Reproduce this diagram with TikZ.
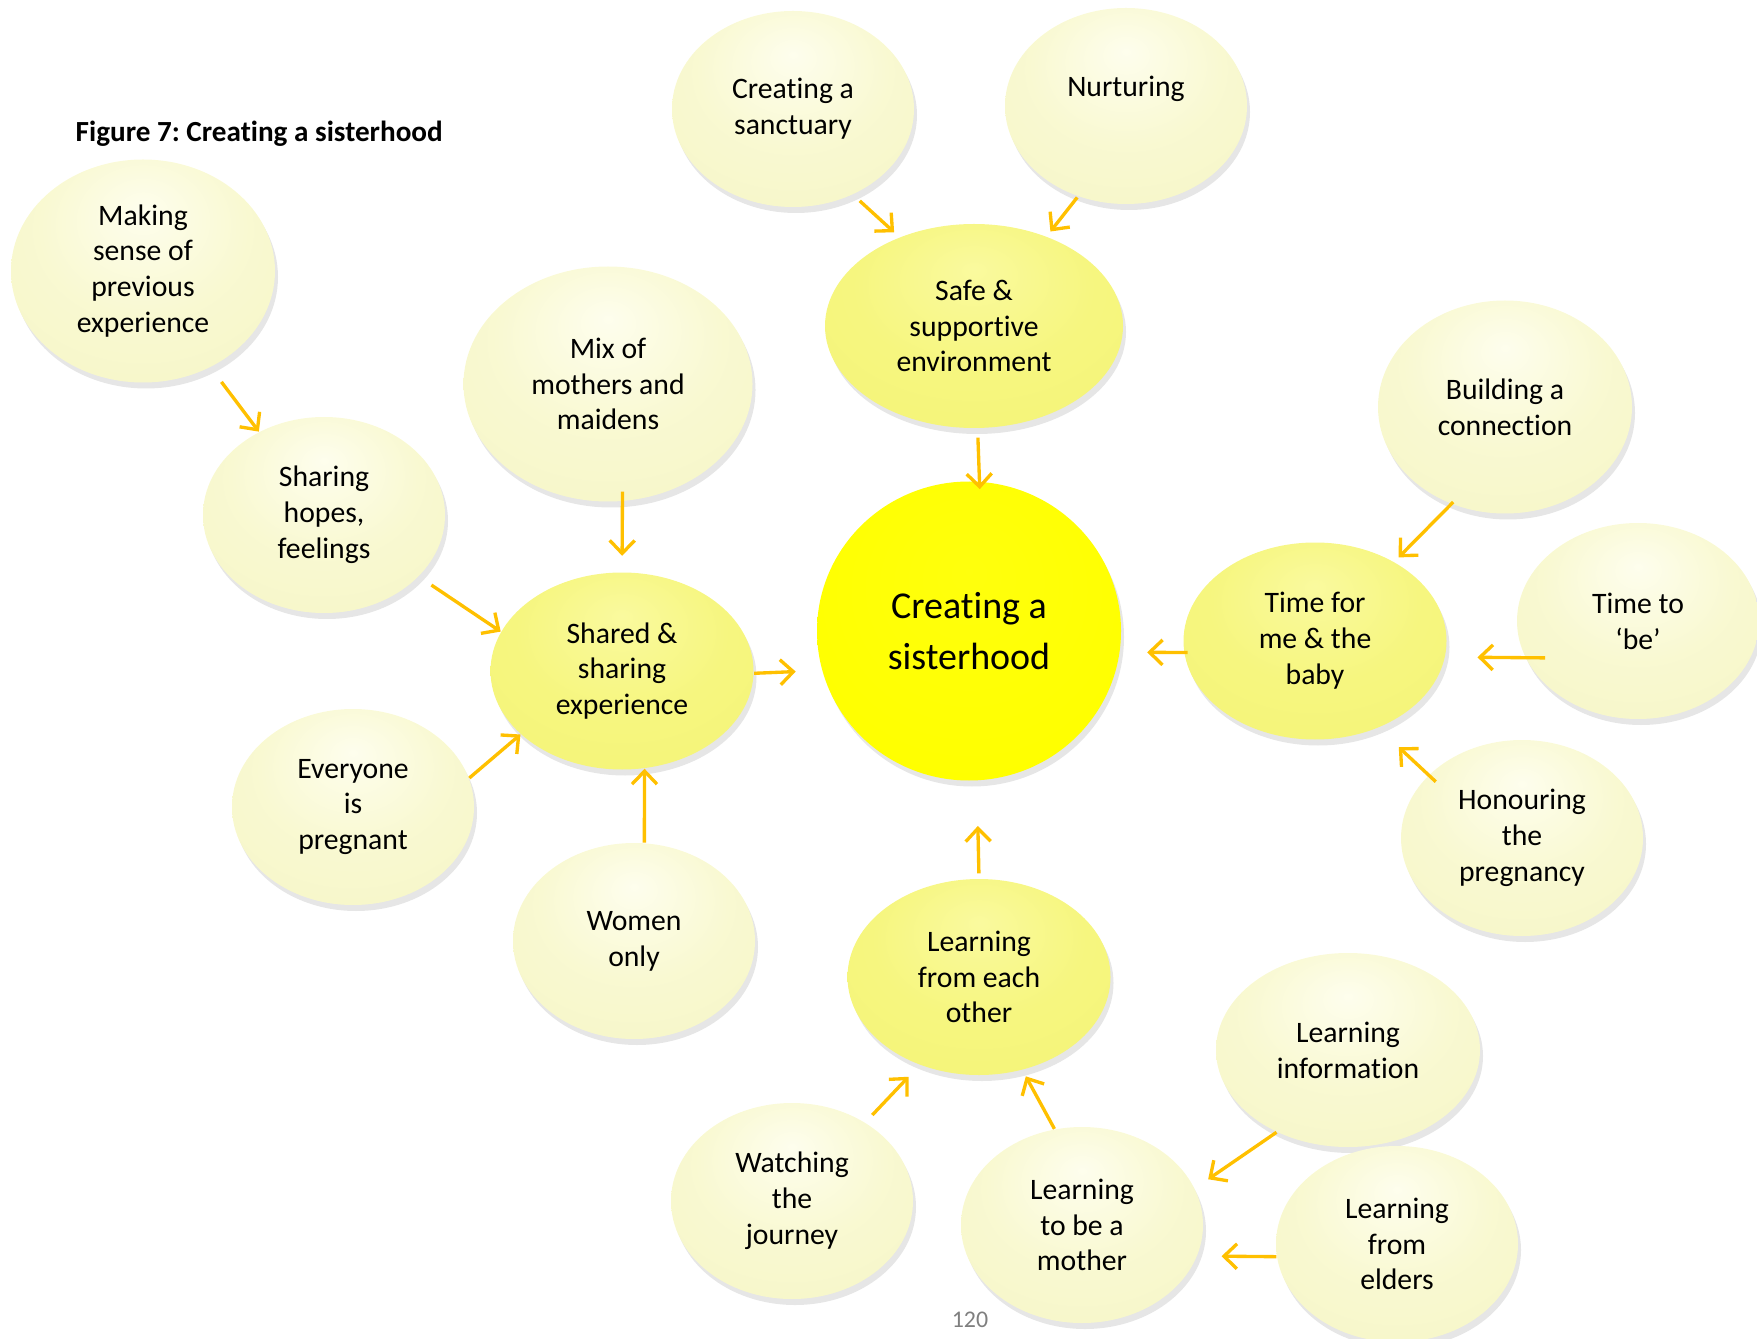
\documentclass[tikz,border=0pt]{standalone}
\usepackage{fontspec}
\setmainfont{Carlito}[Ligatures=NoCommon]
\usepackage{tikz}
\usetikzlibrary{shapes.geometric,shadows,arrows.meta}
\usepackage{xcolor}
\definecolor{arrowgold}{RGB}{255,192,0}
\definecolor{pagegray}{RGB}{127,127,127}
\pgfdeclareradialshading{palefill}{\pgfpoint{0bp}{14bp}}{%
  rgb(0bp)=(0.995,0.995,0.93); rgb(20bp)=(0.975,0.975,0.82); rgb(48bp)=(0.96,0.96,0.76); rgb(62bp)=(0.90,0.90,0.66)}
\pgfdeclareradialshading{midfill}{\pgfpoint{0bp}{14bp}}{%
  rgb(0bp)=(0.98,0.98,0.62); rgb(20bp)=(0.965,0.965,0.50); rgb(48bp)=(0.955,0.955,0.45); rgb(62bp)=(0.88,0.88,0.36)}
\pgfdeclareradialshading{corefill}{\pgfpoint{0bp}{10bp}}{%
  rgb(0bp)=(1,1,0.05); rgb(30bp)=(1,1,0); rgb(50bp)=(0.98,0.98,0); rgb(60bp)=(0.90,0.90,0)}
\newcommand\bubblefont{\fontsize{8.45}{10.2}\selectfont}
\tikzstyle{bubble} = [ellipse, inner sep=0pt, align=center, font=\bubblefont, shading=palefill,
  drop shadow={shadow xshift=0.3mm, shadow yshift=-0.6mm, opacity=0.2},
  minimum width=24.2mm, minimum height=19.6mm]
\tikzstyle{midbubble} = [bubble, shading=midfill]
\tikzstyle{corebubble} = [bubble, shading=corefill, font=\fontsize{10.8}{14.6}\selectfont]
\tikzstyle{link} = [draw=arrowgold, line width=0.95pt, -{Straight Barb[length=1.3mm,width=2.5mm]}]
\tikzstyle{figtitle} = [font=\bfseries\fontsize{8.3}{9.6}\selectfont, inner sep=0pt, anchor=west]

\begin{document}
\begin{tikzpicture}[x=0.1mm,y=-0.1mm]
\useasboundingbox (0,0) rectangle (1757,1339);
\node[figtitle] (title) at (75,134) {Figure 7:\ Creating a sisterhood};

\node[corebubble, minimum width=30.4mm, minimum height=29.9mm] (sister) at (969,631) {Creating a\\sisterhood};

\node[midbubble, minimum width=29.8mm, minimum height=20.4mm] (safe) at (974,326) {Safe \&\\supportive\\environment};
\node[midbubble, minimum width=26.3mm, minimum height=19.7mm] (shared) at (622,671) {Shared \&\\sharing\\experience};
\node[midbubble, minimum width=26.3mm, minimum height=19.7mm] (timefor) at (1315,641) {Time for\\me \& the\\baby};
\node[midbubble, minimum width=26.3mm, minimum height=19.6mm] (lfeach) at (979,977) {Learning\\from each\\other};

\node[bubble] (sanct) at (793,109) {Creating a\\sanctuary};
\node[bubble, text depth=4mm] (nurt) at (1126,106) {Nurturing};
\node[bubble, minimum width=26.4mm, minimum height=22.3mm] (making) at (143,271) {Making\\sense of\\previous\\experience};
\node[bubble, minimum width=28.9mm, minimum height=23.5mm] (mix) at (608,384) {Mix of\\mothers and\\maidens};
\node[bubble] (hopes) at (324,515) {Sharing\\hopes,\\feelings};
\node[bubble] (everyone) at (353,807) {Everyone\\is\\pregnant};
\node[bubble] (women) at (634,941) {Women\\only};
\node[bubble, minimum width=25.4mm, minimum height=21.3mm] (building) at (1505,407) {Building a\\connection};
\node[bubble] (timebe) at (1638,621) {Time to\\‘be’};
\node[bubble] (honour) at (1522,838) {Honouring\\the\\pregnancy};
\node[bubble, minimum width=26.4mm, minimum height=19.4mm] (linfo) at (1348,1050) {Learning\\information};
\node[bubble] (watch) at (792,1201) {Watching\\the\\journey};
\node[bubble] (lmother) at (1082,1225) {Learning\\to be a\\mother};
\node[bubble] (elders) at (1397,1244) {Learning\\from\\elders};

\draw[link, shorten <=0.9mm, shorten >=0.7mm] (sanct.-55) -- (safe.130);
\draw[link, shorten <=0.1mm, shorten >=0.6mm] (nurt.-118) -- (safe.51);
\draw[link, shorten <=0.9mm, shorten >=-0.8mm] (safe.-88) -- (sister.86);
\draw[link, shorten <=1.8mm] (making.-55) -- (hopes.128);
\draw[link, shorten <=-1mm, shorten >=1.6mm] (mix.-83) -- (shared.90);
\draw[link, shorten <=1.5mm] (hopes.-33) -- (shared.162);
\draw[link] (everyone.14) -- (shared.-148);
\draw[link] (women.84) -- (shared.-77);
\draw[link, shorten >=2.6mm] (shared.-1) -- (sister.-165);
\draw[link, shorten <=-0.3mm, shorten >=0.6mm] (building.-119) -- (timefor.45);
\draw[link, shorten <=-2mm, shorten >=3.2mm] (timebe.-162) -- (timefor.-7);
\draw[link, shorten <=-1mm, shorten >=2.8mm] (honour.146) -- (timefor.-54);
\draw[link, shorten <=-0.4mm, shorten >=2.7mm] (timefor.-175) -- (sister.-8);
\draw[link, shorten <=0.5mm, shorten >=4.5mm] (lfeach.90) -- (sister.-87);
\draw[link, shorten <=1mm, shorten >=1.6mm] (watch.47) -- (lfeach.-124);
\draw[link, shorten >=0.7mm] (lmother.106) -- (lfeach.-65);
\draw[link, shorten >=1.6mm] (linfo.-131) -- (lmother.18);
\draw[link, shorten >=2.4mm] (elders.-174) -- (lmother.-15);

\node[text=pagegray, font=\fontsize{6.8}{8}\selectfont] (pagenum) at (970,1320) {120};
\end{tikzpicture}
\end{document}
